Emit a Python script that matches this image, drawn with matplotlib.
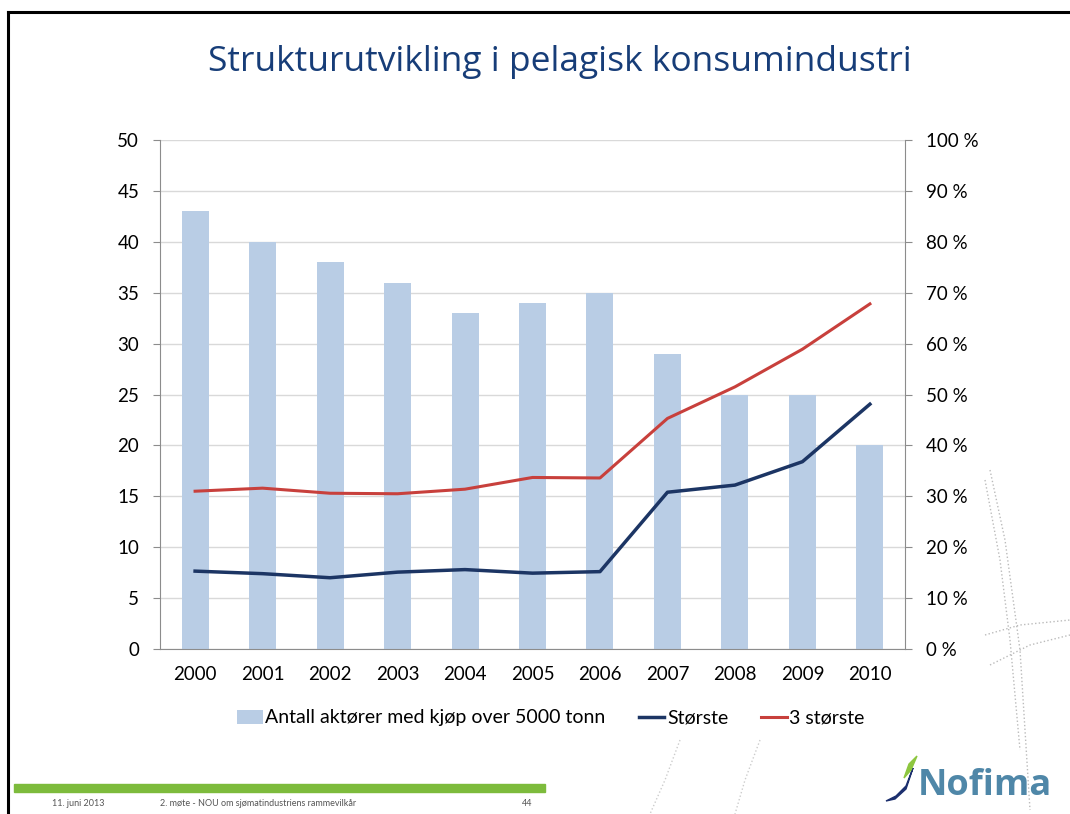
import matplotlib
matplotlib.use("Agg")
import matplotlib.pyplot as plt
from matplotlib.lines import Line2D
from matplotlib.patches import Patch, Rectangle
from matplotlib.ticker import FuncFormatter

# data
years = ["2000", "2001", "2002", "2003", "2004", "2005",
         "2006", "2007", "2008", "2009", "2010"]
antall_aktorer = [43, 40, 38, 36, 33, 34, 35, 29, 25, 25, 20]
storste_pct = [15.3, 14.8, 14.0, 15.1, 15.6, 14.9, 15.2, 30.8, 32.2, 36.8, 48.1]
tre_storste_pct = [31.0, 31.6, 30.6, 30.5, 31.4, 33.7, 33.6, 45.3, 51.5, 58.9, 67.8]

BAR_COLOR = "#b9cde5"
NAVY = "#1c3564"
RED = "#c8403c"
GRID = "#d9d9d9"
AXIS = "#8c8c8c"
TITLE_COLOR = "#173d78"

plt.rcParams["font.family"] = ["Lato", "DejaVu Sans"]

fig = plt.figure(figsize=(10.7, 8.14), dpi=100)

# slide frame (left and top edge visible)
fig.add_artist(Line2D([8 / 1070, 8 / 1070], [0, 1 - 12 / 814], color="black", lw=2.2))
fig.add_artist(Line2D([8 / 1070, 1], [1 - 12 / 814, 1 - 12 / 814], color="black", lw=2.2))

fig.text(0.523, 1 - 62 / 814, "Strukturutvikling i pelagisk konsumindustri",
         ha="center", va="center", fontsize=25.5, color=TITLE_COLOR,
         family=["Open Sans", "DejaVu Sans"])

ax = fig.add_axes([160 / 1070, 1 - 649 / 814, 745 / 1070, 509 / 814])
x = range(len(years))
ax.bar(x, antall_aktorer, width=0.4, color=BAR_COLOR, zorder=2)
ax.set_ylim(0, 50)
ax.set_yticks(range(0, 51, 5))
ax.set_xlim(-0.52, len(years) - 0.48)
ax.set_xticks(list(x), years)
ax.yaxis.grid(True, color=GRID, lw=1, zorder=0)
ax.set_axisbelow(True)
for side in ("top", "right"):
    ax.spines[side].set_visible(False)
ax.spines["left"].set_color(AXIS)
ax.spines["bottom"].set_color(AXIS)
ax.tick_params(axis="y", colors=AXIS, labelcolor="black", labelsize=13.5, length=5, pad=10)
ax.tick_params(axis="x", length=0, labelsize=13.5, pad=12)

ax2 = ax.twinx()
ax2.plot(x, storste_pct, color=NAVY, lw=2.5, zorder=4)
ax2.plot(x, tre_storste_pct, color=RED, lw=2.2, zorder=4)
ax2.set_ylim(0, 100)
ax2.set_yticks(range(0, 101, 10))
ax2.yaxis.set_major_formatter(FuncFormatter(lambda v, _: f"{v:.0f} %"))
for side in ("top", "left", "bottom"):
    ax2.spines[side].set_visible(False)
ax2.spines["right"].set_color(AXIS)
ax2.tick_params(axis="y", colors=AXIS, labelcolor="black", labelsize=13.5, length=5, pad=10)

handles = [
    Patch(facecolor=BAR_COLOR, label="Antall aktører med kjøp over 5000 tonn"),
    Line2D([], [], color=NAVY, lw=2.5, label="Største"),
    Line2D([], [], color=RED, lw=2.2, label="3 største"),
]
fig.legend(handles=handles, loc="center", bbox_to_anchor=(0.515, 1 - 718 / 814),
           ncol=3, frameon=False, fontsize=14, handlelength=1.3, handletextpad=0.15,
           columnspacing=1.7)

# footer
fig.add_artist(Rectangle((14 / 1070, 1 - 792 / 814), 531 / 1070, 8 / 814,
                         color="#7dbb3c", transform=fig.transFigure))
fig.text(52 / 1070, 1 - 804 / 814, "11. juni 2013", fontsize=6.5, color="#555555", va="center")
fig.text(160 / 1070, 1 - 804 / 814, "2. møte - NOU om sjømatindustriens rammevilkår",
         fontsize=6.5, color="#555555", va="center")
fig.text(522 / 1070, 1 - 804 / 814, "44", fontsize=6.5, color="#555555", va="center")

# decorative dotted curves on the right
deco = fig.add_axes([0, 0, 1, 1], zorder=-1)
deco.set_xlim(0, 1070)
deco.set_ylim(814, 0)
deco.axis("off")
deco.plot([985, 1000, 1010, 1020], [480, 560, 640, 750], ls=":", color="#bbbbbb", lw=1)
deco.plot([990, 1005, 1020, 1030], [470, 540, 650, 810], ls=":", color="#bbbbbb", lw=1)
deco.plot([985, 1020, 1070], [635, 625, 620], ls=":", color="#bbbbbb", lw=1)
deco.plot([990, 1030, 1070], [665, 645, 635], ls=":", color="#bbbbbb", lw=1)
deco.plot([680, 665, 650], [740, 780, 814], ls=":", color="#cccccc", lw=1)
deco.plot([760, 745, 735], [740, 780, 814], ls=":", color="#cccccc", lw=1)

# logo
deco.fill([886, 896, 906, 913, 906, 895], [801, 796, 786, 768, 789, 799], color="#1c2f6e")
deco.fill([904, 909, 917, 911], [778, 764, 756, 770], color="#8dc63f")
fig.text(918 / 1070, 1 - 786 / 814, "Nofima", fontsize=26, fontweight="bold",
         color="#4f87a8", va="center", family=["Open Sans", "DejaVu Sans"])

fig.savefig("out.png", dpi=100)
